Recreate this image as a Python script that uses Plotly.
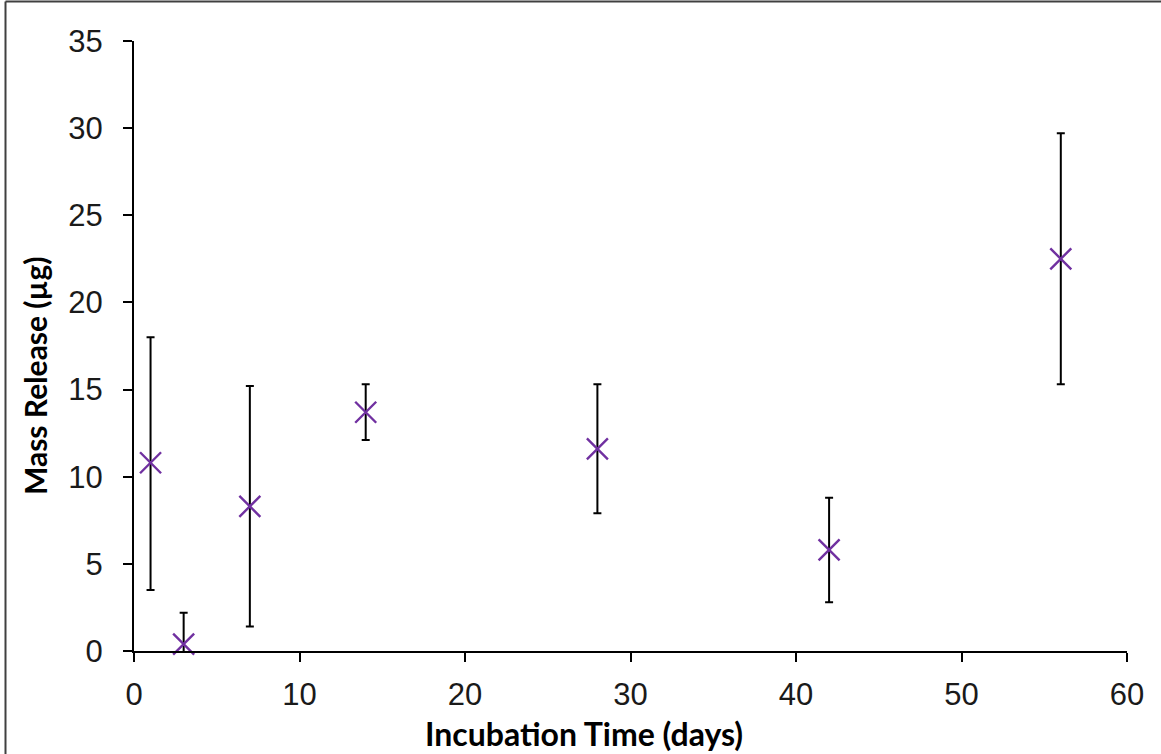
import plotly.graph_objects as go

days = [1, 3, 7, 14, 28, 42, 56]
mass_release = [10.8, 0.4, 8.3, 13.7, 11.6, 5.8, 22.5]
err_plus = [7.2, 1.8, 6.9, 1.6, 3.7, 3.0, 7.2]
err_minus = [7.3, 1.8, 6.9, 1.6, 3.7, 3.0, 7.2]

x_ticks = [0, 10, 20, 30, 40, 50, 60]
y_ticks = [0, 5, 10, 15, 20, 25, 30, 35]

x_title = "Incubation Time (days)"
y_title = "Mass Release (µg)"

fig = go.Figure()
# error bars (clipped at the axes)
fig.add_trace(go.Scatter(
    x=days, y=mass_release, mode="markers",
    marker=dict(size=1, color="rgba(0,0,0,0)"),
    error_y=dict(type="data", symmetric=False, array=err_plus, arrayminus=err_minus,
                 color="black", thickness=2, width=4),
    cliponaxis=True, showlegend=False, hoverinfo="skip"))
# markers (not clipped)
fig.add_trace(go.Scatter(
    x=days, y=mass_release, mode="markers",
    marker=dict(symbol="x-thin-open", size=21, color="#7030A0",
                line=dict(color="#7030A0", width=2.4)),
    cliponaxis=False, showlegend=False))

axis_common = dict(showline=True, linecolor="black", linewidth=2, ticks="outside",
                   ticklen=9, tickwidth=2, tickcolor="black", showgrid=False, zeroline=False,
                   tickfont=dict(family="Liberation Sans, Arial", size=31, color="#1a1a1a"))

title_font = dict(family="Lato, Open Sans", size=32, color="black", weight="bold")
y_title_font = dict(family="Lato, Open Sans", size=30, color="black", weight="bold")

fig.update_layout(
    width=1161, height=754,
    margin=dict(l=134, r=34, t=41, b=103),
    paper_bgcolor="white", plot_bgcolor="white",
    xaxis=dict(range=[0, 60], tickvals=x_ticks, ticktext=[str(v) for v in x_ticks],
               ticklabelstandoff=6, **axis_common),
    yaxis=dict(range=[0, 35], tickvals=y_ticks, ticktext=[str(v) for v in y_ticks],
               ticklabelstandoff=14, **axis_common),
    annotations=[
        dict(text=x_title, xref="paper", yref="paper", x=(584 - 134) / 993,
             y=(651 - 733) / 610, xanchor="center", yanchor="middle",
             showarrow=False, font=title_font),
        dict(text=y_title, xref="paper", yref="paper", x=(35 - 134) / 993,
             y=(651 - 376) / 610, xanchor="center", yanchor="middle",
             textangle=-90, showarrow=False, font=y_title_font),
    ],
    shapes=[
        dict(type="line", xref="paper", yref="paper",
             x0=(5.5 - 134) / 993, x1=(1161 - 134) / 993 + 0.01,
             y0=(651 - 1.5) / 610, y1=(651 - 1.5) / 610,
             line=dict(color="#404040", width=2)),
        dict(type="line", xref="paper", yref="paper",
             x0=(5.5 - 134) / 993, x1=(5.5 - 134) / 993,
             y0=(651 - 1.5) / 610, y1=(651 - 760) / 610,
             line=dict(color="#404040", width=2)),
    ],
)

fig.write_html("out.html", config={"displayModeBar": False},
               post_script="document.body.style.margin='0px';")
